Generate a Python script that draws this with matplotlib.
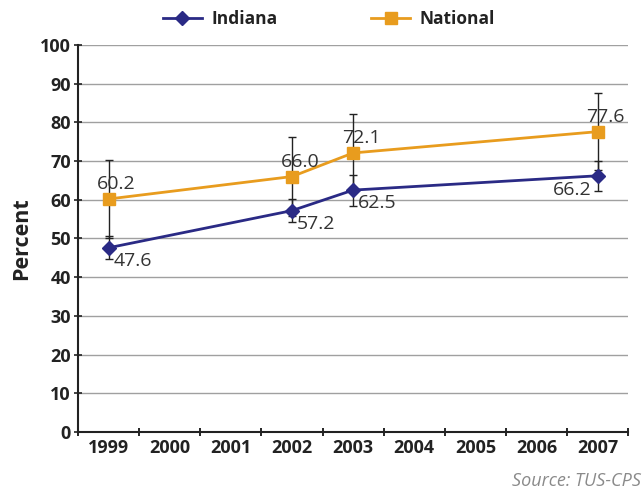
import numpy as np
import matplotlib
matplotlib.use("Agg")
import matplotlib.pyplot as plt

plt.rcParams['font.family'] = ['Open Sans', 'DejaVu Sans']

years = ['1999', '2000', '2001', '2002', '2003', '2004', '2005', '2006', '2007']
obs_years = ['1999', '2002', '2003', '2007']
indiana = [47.6, 57.2, 62.5, 66.2]
indiana_err = [3.0, 2.9, 4.0, 3.9]
national = [60.2, 66.0, 72.1, 77.6]
national_err = [10.1, 10.1, 10.1, 10.0]

navy = '#2a2a85'
orange = '#e89c1e'
txt = '#333333'

x_pos = [years.index(y) for y in obs_years]

fig = plt.figure(figsize=(6.42, 4.94), dpi=100)
ax = fig.add_axes([0.1215, 0.1255, 0.857, 0.7835])

ax.errorbar(x_pos, national, yerr=national_err, fmt='none', ecolor='#222222',
            elinewidth=1, capsize=3, capthick=1, zorder=2)
ax.errorbar(x_pos, indiana, yerr=indiana_err, fmt='none', ecolor='#222222',
            elinewidth=1, capsize=3, capthick=1, zorder=2)
ax.plot(x_pos, national, color=orange, lw=2, marker='s', ms=8, label='National', zorder=3)
ax.plot(x_pos, indiana, color=navy, lw=2, marker='D', ms=7, label='Indiana', zorder=3)

# labels: national above, indiana below right (last one below left)
for xp, v in zip(x_pos, national):
    ax.annotate(f'{v:.1f}', (xp, v), xytext=(8, 15), textcoords='offset pixels',
                ha='center', va='center', fontsize=14, color=txt)
for i, (xp, v) in enumerate(zip(x_pos, indiana)):
    if i == len(x_pos) - 1:
        ax.annotate(f'{v:.1f}', (xp, v), xytext=(-6, -14), textcoords='offset pixels',
                    ha='right', va='center', fontsize=14, color=txt)
    else:
        ax.annotate(f'{v:.1f}', (xp, v), xytext=(5, -13), textcoords='offset pixels',
                    ha='left', va='center', fontsize=14, color=txt)

ax.set_xlim(-0.5, len(years) - 0.5)
ax.set_ylim(0, 100)
ax.set_yticks(np.arange(0, 101, 10))
ax.yaxis.grid(True, color='#a0a0a0', lw=1)
ax.set_axisbelow(True)

ax.set_xticks(np.arange(-0.5, len(years), 1))
ax.set_xticklabels([])
ax.set_xticks(np.arange(len(years)), minor=True)
ax.set_xticklabels(years, minor=True, fontsize=13, fontweight='bold', color='#222222')
ax.tick_params(axis='x', which='minor', length=0, pad=5)
ax.tick_params(axis='x', which='major', length=6, width=1.2, direction='inout')
ax.tick_params(axis='y', length=6, width=1.2, direction='inout', labelsize=13,
               colors='#222222', pad=2)
for lab in ax.get_yticklabels():
    lab.set_fontweight('bold')

for s in ['top', 'right']:
    ax.spines[s].set_visible(False)
for s in ['left', 'bottom']:
    ax.spines[s].set_linewidth(1.5)
    ax.spines[s].set_color('#222222')

ax.set_ylabel('Percent', fontsize=15.5, fontweight='bold', color='#222222', labelpad=6)

handles, labels = ax.get_legend_handles_labels()
leg = fig.legend(handles[::-1], labels[::-1], loc='upper center', bbox_to_anchor=(0.5125, 1.012),
                 ncol=2, frameon=False, fontsize=12.5, columnspacing=5.4, handlelength=2.25,
                 handletextpad=0.55)
for t in leg.get_texts():
    t.set_fontweight('bold')
    t.set_color('#222222')

fig.text(0.998, 0.008, 'Source: TUS-CPS', ha='right', va='bottom', fontsize=13,
         style='italic', color='#8a8a8a')

fig.savefig('out.png', dpi=100)
